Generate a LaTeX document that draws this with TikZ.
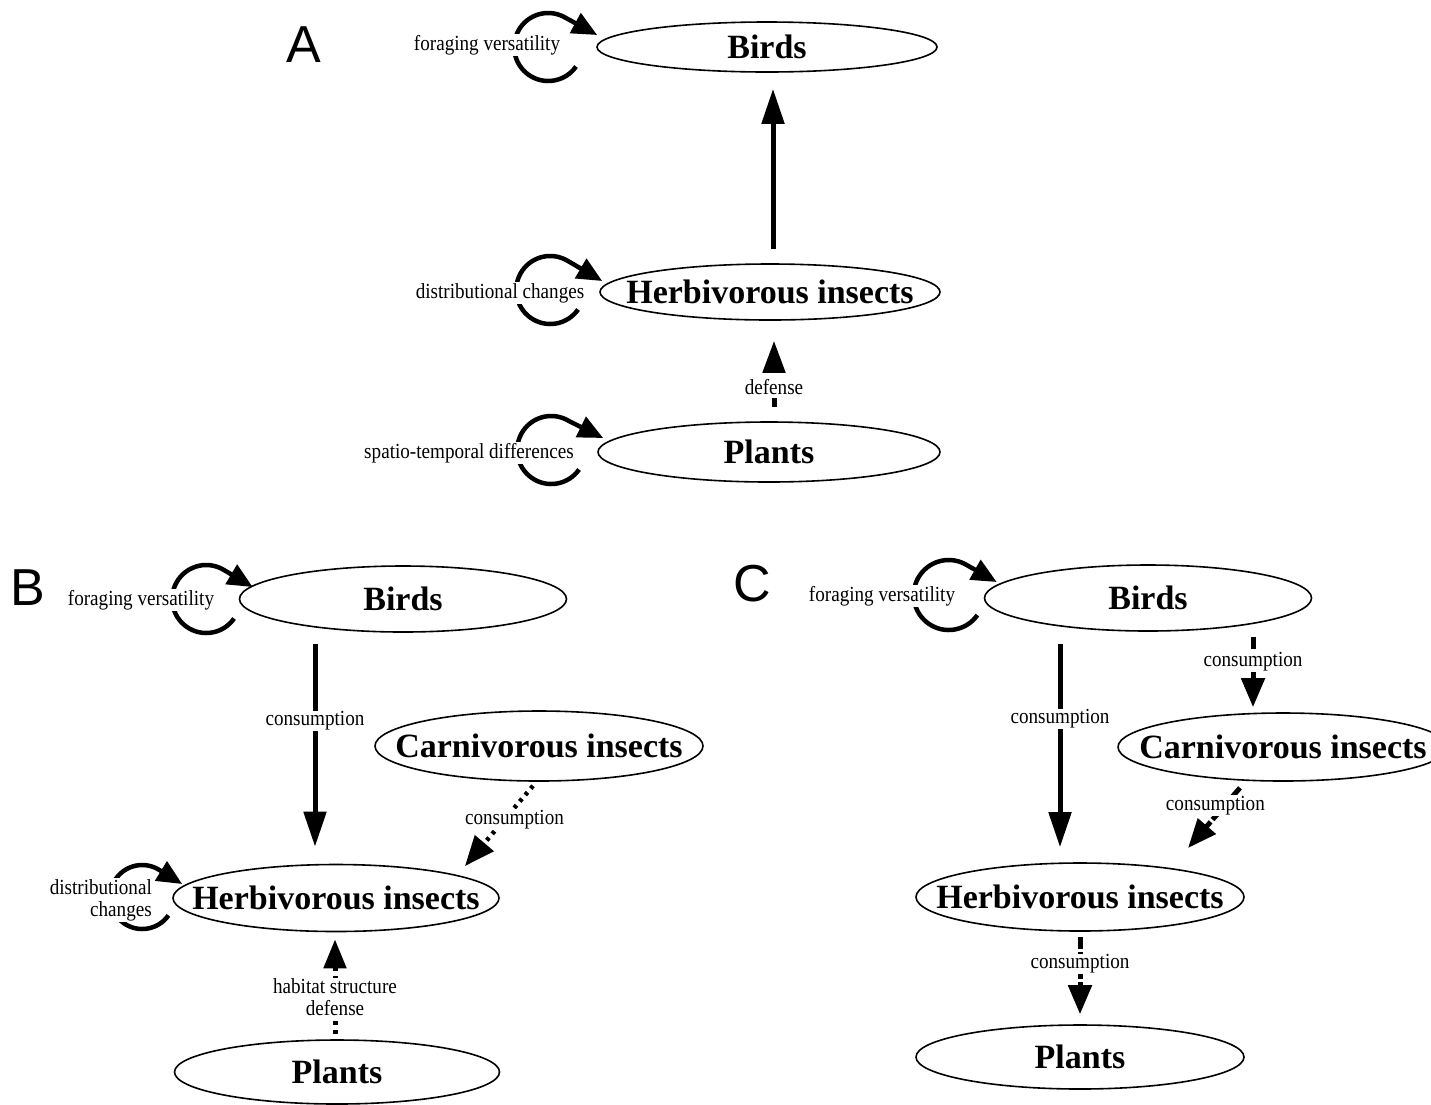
\documentclass[tikz,border=0pt]{standalone}
\usepackage{fontspec}
\setmainfont{Liberation Serif}
\newfontfamily\panelfont{Liberation Sans}
\newfontfamily\smallserif[FakeStretch=0.89]{Liberation Serif}
\usetikzlibrary{shapes.geometric,arrows.meta,calc}
\newcommand\ztxt[1]{\makebox[0pt]{#1}}
\newcommand\selfloop[7]{% node, dx, dy, r, tipdx, tipdy
  \draw[loopline] ($(#1.west)+(#2,#3)$) ++(35:#4) arc[start angle=35,end angle=302,radius=#4] -- ($(#1.west)+(#5,#6)$);}
\begin{document}
\begin{tikzpicture}[x=1pt,y=-1pt,
  ell/.style={draw, ellipse, line width=1.6pt, inner sep=0pt, font=\fontsize{34}{36}\selectfont\bfseries},
  lab/.style={font=\smallserif\fontsize{21.5}{22}\selectfont, fill=white, inner sep=1pt},
  panel/.style={font=\panelfont\fontsize{52}{52}\selectfont, inner sep=0pt},
  loopline/.style={line width=4.5pt, -{Triangle[length=25pt,width=22pt]}},
  mainarrow/.style={line width=5pt, -{Triangle[length=35pt,width=22pt]}},
  dasharrow/.style={line width=5pt, dash pattern=on 9pt off 9pt, -{Triangle[length=32pt,width=22pt]}},
  dasharrowB/.style={line width=5pt, dash pattern=on 4pt off 5pt, -{Triangle[length=29pt,width=22pt]}},
  dasharrowC/.style={line width=5pt, dash pattern=on 12pt off 3pt, -{Triangle[length=29pt,width=23pt]}},
  dotarrow/.style={line width=4.5pt, dash pattern=on 3.5pt off 5pt, -{Triangle[length=30pt,width=24pt]}}
]
\useasboundingbox (0,0) rectangle (1431,1104);
\fill[white] (0,0) rectangle (1431,1104);

% ---------- Panel A ----------
\node[panel] (pa) at (304,45) {A};
\node[ell, minimum width=340pt, minimum height=50pt] (bA) at (767,47) {\ztxt{Birds}};
\node[ell, minimum width=340pt, minimum height=56pt] (hA) at (770,292) {\ztxt{Herbivorous insects}};
\node[ell, minimum width=342pt, minimum height=60pt] (pA) at (769,452) {\ztxt{Plants}};

\selfloop{bA}{-48}{0}{34}{1}{-12}{}
\selfloop{hA}{-49}{-2}{34}{3}{-11}{}
\selfloop{pA}{-46}{-2}{34}{6}{-14}{}
\node[lab] (tA1) at (487,45) {foraging versatility};
\node[lab] (tA2) at (500,293) {distributional changes};
\node[lab] (tA3) at (469,453) {spatio-temporal differences};

\draw[mainarrow] ($(hA.north)+(3,-14)$) -- ($(bA.south)+(6,16)$);
\draw[dasharrow] ($(pA.north)+(5,-14)$) -- node[lab, pos=0.3] (lA1) {defense} ($(hA.south)+(4,20)$);

% ---------- Panel B ----------
\node[panel] (pb) at (28,588) {B};
\node[ell, minimum width=327pt, minimum height=66pt] (bB) at (403,599) {\ztxt{Birds}};
\node[ell, minimum width=328pt, minimum height=70pt] (cB) at (539,746) {\ztxt{Carnivorous insects}};
\node[ell, minimum width=326pt, minimum height=67pt] (hB) at (336,898) {\ztxt{Herbivorous insects}};
\node[ell, minimum width=325pt, minimum height=64pt] (pB) at (337,1072) {\ztxt{Plants}};

\selfloop{bB}{-32.5}{0}{34}{14}{-12}{}
\selfloop{hB}{-30}{-1}{32}{10}{-14}{}
\node[lab] (tB1) at (141,600) {foraging versatility};
\node[lab, align=right, anchor=east] (tB2) at (153,900) {distributional\\changes};

\draw[mainarrow] ($(bB.south)+(-88,11)$) -- node[lab, pos=0.38] (lB1) {consumption} ($(hB.north)+(-21,-17)$);
\draw[dotarrow] ($(cB.south)+(-6,4)$) -- node[lab, pos=0.42, xshift=10pt] (lB2) {consumption} ($(hB.center)+(129,-32)$);
\draw[dasharrowB] ($(pB.north)+(-2,-5)$) -- node[lab, pos=0.39, align=center] (lB3) {habitat structure\\defense} ($(hB.south)+(-1,7)$);

% ---------- Panel C ----------
\node[panel] (pc) at (752,584) {C};
\node[ell, minimum width=327pt, minimum height=66pt] (bC) at (1148,598) {\ztxt{Birds}};
\node[ell, minimum width=330pt, minimum height=68pt] (cC) at (1283,747) {\ztxt{Carnivorous insects}};
\node[ell, minimum width=328pt, minimum height=68pt] (hC) at (1080,897) {\ztxt{Herbivorous insects}};
\node[ell, minimum width=328pt, minimum height=64pt] (pC) at (1080,1057) {\ztxt{Plants}};

\selfloop{bC}{-35}{-3}{35}{13}{-16}{}
\node[lab] (tC1) at (882,596) {foraging versatility};

\draw[mainarrow] ($(bC.south)+(-88,12)$) -- node[lab, pos=0.37] (lC1) {consumption} ($(hC.north)+(-20,-15)$);
\draw[dasharrowC] ($(bC.south)+(105,5)$) -- node[lab, pos=0.35] (lC2) {consumption} ($(cC.north)+(-30,-5)$);
\draw[dasharrowC] ($(cC.south)+(-43,6)$) -- node[lab, pos=0.3, xshift=-9pt] (lC3) {consumption} ($(hC.center)+(108,-49)$);
\draw[dasharrowC] ($(hC.south)+(0,5)$) -- node[lab, pos=0.35] (lC4) {consumption} ($(pC.north)+(0,-10)$);
\end{tikzpicture}
\end{document}
